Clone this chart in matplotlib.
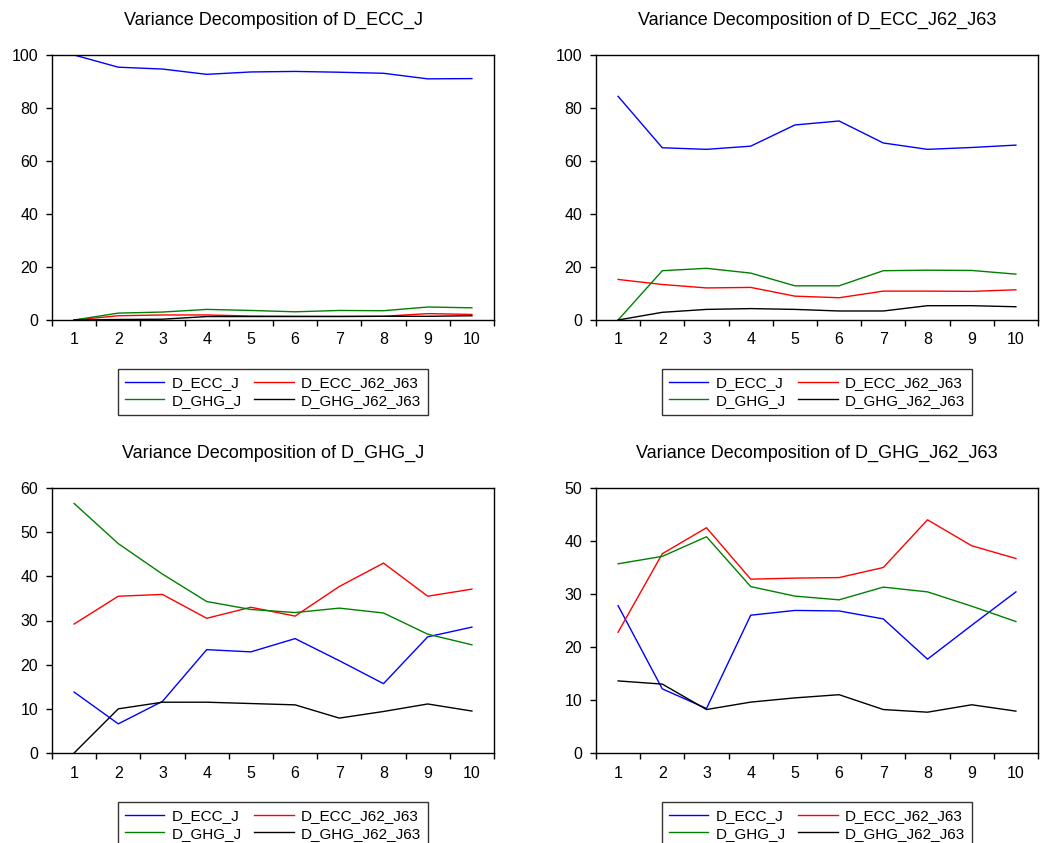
import numpy as np
import matplotlib
matplotlib.use('Agg')
import matplotlib.pyplot as plt
from matplotlib.ticker import MultipleLocator, FixedLocator

plt.rcParams['font.family'] = ['Liberation Sans', 'DejaVu Sans']

periods = list(range(1, 11))
series_names = ['D_ECC_J', 'D_ECC_J62_J63', 'D_GHG_J', 'D_GHG_J62_J63']
colors = ['#0000ff', '#ff0000', '#008000', '#000000']

titles = ['Variance Decomposition of D_ECC_J',
          'Variance Decomposition of D_ECC_J62_J63',
          'Variance Decomposition of D_GHG_J',
          'Variance Decomposition of D_GHG_J62_J63']

# panel 1: D_ECC_J
ecc_j_ecc_j = [100.0, 95.4, 94.7, 92.7, 93.6, 93.8, 93.5, 93.1, 91.0, 91.1]
ecc_j_ecc_j62 = [0.0, 1.6, 1.9, 1.9, 1.5, 1.4, 1.4, 1.4, 2.4, 2.1]
ecc_j_ghg_j = [0.0, 2.6, 3.0, 4.0, 3.6, 3.1, 3.6, 3.5, 4.9, 4.6]
ecc_j_ghg_j62 = [0.0, 0.2, 0.3, 1.3, 1.3, 1.3, 1.3, 1.4, 1.4, 1.6]

# panel 2: D_ECC_J62_J63
ecc62_ecc_j = [84.4, 65.0, 64.4, 65.6, 73.6, 75.1, 66.8, 64.4, 65.1, 66.0]
ecc62_ecc_j62 = [15.3, 13.4, 12.1, 12.3, 9.0, 8.4, 10.9, 10.9, 10.8, 11.4]
ecc62_ghg_j = [0.0, 18.6, 19.5, 17.7, 12.9, 12.9, 18.6, 18.8, 18.7, 17.3]
ecc62_ghg_j62 = [0.0, 2.9, 4.0, 4.3, 4.0, 3.4, 3.4, 5.4, 5.4, 5.0]

# panel 3: D_GHG_J
ghg_j_ecc_j = [13.8, 6.6, 11.7, 23.4, 22.9, 25.9, 20.9, 15.7, 26.3, 28.5]
ghg_j_ecc_j62 = [29.2, 35.5, 35.9, 30.5, 33.0, 31.0, 37.7, 43.0, 35.5, 37.1]
ghg_j_ghg_j = [56.5, 47.4, 40.5, 34.3, 32.5, 31.8, 32.8, 31.7, 26.9, 24.5]
ghg_j_ghg_j62 = [0.0, 10.0, 11.5, 11.5, 11.2, 10.9, 7.9, 9.4, 11.1, 9.5]

# panel 4: D_GHG_J62_J63
ghg62_ecc_j = [27.8, 12.1, 8.4, 26.0, 26.9, 26.8, 25.3, 17.7, 24.1, 30.4]
ghg62_ecc_j62 = [22.8, 37.6, 42.5, 32.8, 33.0, 33.1, 35.0, 44.0, 39.1, 36.7]
ghg62_ghg_j = [35.7, 37.1, 40.8, 31.4, 29.6, 28.9, 31.3, 30.4, 27.7, 24.8]
ghg62_ghg_j62 = [13.6, 13.0, 8.2, 9.6, 10.4, 11.0, 8.2, 7.7, 9.1, 7.9]

panels = [
    [ecc_j_ecc_j, ecc_j_ecc_j62, ecc_j_ghg_j, ecc_j_ghg_j62],
    [ecc62_ecc_j, ecc62_ecc_j62, ecc62_ghg_j, ecc62_ghg_j62],
    [ghg_j_ecc_j, ghg_j_ecc_j62, ghg_j_ghg_j, ghg_j_ghg_j62],
    [ghg62_ecc_j, ghg62_ecc_j62, ghg62_ghg_j, ghg62_ghg_j62],
]
ylims = [(0, 100, 20), (0, 100, 20), (0, 60, 10), (0, 50, 10)]

W, H = 1047, 843
fig = plt.figure(figsize=(W / 100, H / 100), dpi=100)

# axes boxes in pixels: left, top, right, bottom
boxes = [(52, 55, 494, 320), (596, 55, 1038, 320),
         (52, 488, 494, 753), (596, 488, 1038, 753)]

for i in range(4):
    l, t, r, b = boxes[i]
    ax = fig.add_axes([l / W, 1 - b / H, (r - l) / W, (b - t) / H])
    lines = []
    for vals, c, name in zip(panels[i], colors, series_names):
        ln, = ax.plot(periods, vals, color=c, lw=1.0, label=name)
        lines.append(ln)

    ymin, ymax, step = ylims[i]
    ax.set_ylim(ymin, ymax)
    ax.yaxis.set_major_locator(MultipleLocator(step))
    ax.set_xlim(0.5, 10.5)
    ax.set_xticks(periods)
    ax.xaxis.set_minor_locator(FixedLocator(np.arange(0.5, 11, 1)))
    ax.tick_params(axis='x', which='major', length=0, pad=9, labelsize=11.5)
    ax.tick_params(axis='x', which='minor', length=4, width=1, direction='out')
    ax.tick_params(axis='y', length=4, width=1, direction='out', pad=6, labelsize=11.5)
    for sp in ax.spines.values():
        sp.set_linewidth(1)

    fig.text((l + r) / 2 / W, 1 - (t - 35) / H, titles[i], ha='center', va='center', fontsize=13)

    # row-wise order for a 2-column legend
    order = [0, 2, 1, 3]
    leg = ax.legend([lines[k] for k in order], [series_names[k] for k in order],
                    loc='upper center', bbox_to_anchor=(0.5, -49 / (b - t)), ncol=2,
                    fontsize=11, frameon=True, fancybox=False, edgecolor='black',
                    handlelength=2.6, columnspacing=0.85, handletextpad=0.45,
                    labelspacing=0.25, borderpad=0.45, borderaxespad=0)
    leg.get_frame().set_linewidth(1)

fig.savefig('out.png', dpi=100)
